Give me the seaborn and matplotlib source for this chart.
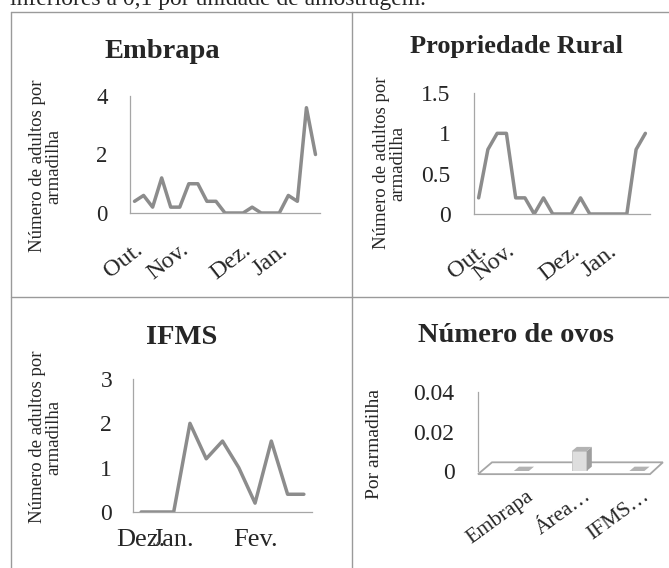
import numpy as np
import pandas as pd
import matplotlib
matplotlib.use("Agg")
import matplotlib.pyplot as plt
import seaborn as sns
from matplotlib.patches import Polygon
from matplotlib.lines import Line2D
from matplotlib.transforms import ScaledTranslation
from matplotlib.ticker import FuncFormatter

# ---------------- data ----------------
embrapa_vals = [0.4, 0.6, 0.2, 1.2, 0.2, 0.2, 1.0, 1.0, 0.4, 0.4, 0, 0, 0, 0.2, 0, 0, 0, 0.6, 0.4, 3.6, 2.0]
embrapa_ticklabels = ["Out.", "Nov.", "Dez.", "Jan."]
embrapa_tickidx = [0, 5, 12, 16]
embrapa_yticks = [0, 2, 4]

rural_vals = [0.2, 0.8, 1.0, 1.0, 0.2, 0.2, 0, 0.2, 0, 0, 0, 0.2, 0, 0, 0, 0, 0, 0.8, 1.0]
rural_ticklabels = ["Out.", "Nov.", "Dez.", "Jan."]
rural_tickidx = [0, 3, 10, 14]
rural_yticks = [0, 0.5, 1, 1.5]

ifms_vals = [0, 0, 0, 2.0, 1.2, 1.6, 1.0, 0.2, 1.6, 0.4, 0.4]
ifms_ticklabels = ["Dez.", "Jan.", "Fev."]
ifms_tickidx = [0, 2, 7]
ifms_yticks = [0, 1, 2, 3]

ovos_cats = ["Embrapa", "Área…", "IFMS…"]
ovos_vals = [0.0, 0.01, 0.0]
ovos_yticks = [0, 0.02, 0.04]

titles = ["Embrapa", "Propriedade Rural", "IFMS", "Número de ovos"]
ylab_adultos = "Número de adultos por\narmadilha"
ylab_ovos = "Por armadilha"
top_text = "inferiores a 0,1 por unidade de amostragem."

# ---------------- style ----------------
sns.set_theme(style="white")
plt.rcParams["font.family"] = ["Liberation Serif", "DejaVu Serif"]

W, H = 669, 568
fig = plt.figure(figsize=(W / 100, H / 100), dpi=100)
fig.patch.set_facecolor("white")

LINE_C = "#8c8c8c"
AX_C = "#a6a6a6"
GRID_C = "#9a9a9a"


def px_rect(left, top, right, bottom):
    return [left / W, 1 - bottom / H, (right - left) / W, (bottom - top) / H]


def fx(x):
    return x / W


def fy(y):
    return 1 - y / H


fmt = FuncFormatter(lambda v, p: f"{v:g}")


def style_axes(ax, ypad, ysize):
    sns.despine(ax=ax)
    for s in ["left", "bottom"]:
        ax.spines[s].set_color(AX_C)
        ax.spines[s].set_linewidth(0.9)
    ax.tick_params(axis="both", length=0)
    ax.tick_params(axis="y", pad=ypad, labelsize=ysize)
    ax.yaxis.set_major_formatter(fmt)
    ax.set_xlabel("")
    ax.set_ylabel("")
    ax.set_facecolor("none")


def line_panel(rect, vals, yticks, ticklabels, tickidx, ypad, ysize):
    ax = fig.add_axes(rect)
    df = pd.DataFrame({"idx": np.arange(len(vals)), "val": vals})
    sns.lineplot(data=df, x="idx", y="val", ax=ax, color=LINE_C, linewidth=2.5)
    ax.set_xlim(-0.5, len(vals) - 0.5)
    ax.set_ylim(min(yticks), max(yticks))
    ax.set_yticks(yticks)
    ax.set_xticks(tickidx)
    ax.set_xticklabels(ticklabels)
    style_axes(ax, ypad, ysize)
    return ax


def rotate_labels(ax, rot, dx_in):
    for lbl in ax.get_xticklabels():
        lbl.set_rotation(rot)
        lbl.set_ha("right")
        lbl.set_va("center")
        lbl.set_rotation_mode("anchor")
        lbl.set_transform(lbl.get_transform() + ScaledTranslation(dx_in, 0, fig.dpi_scale_trans))


# ---------- Embrapa ----------
ax1 = line_panel(px_rect(130, 96, 320, 213), embrapa_vals, embrapa_yticks,
                 embrapa_ticklabels, embrapa_tickidx, 16, 16.5)
ax1.tick_params(axis="x", pad=25, labelsize=17.5)
rotate_labels(ax1, 38, 0.06)

# ---------- Propriedade Rural ----------
ax2 = line_panel(px_rect(474, 93, 650, 214), rural_vals, rural_yticks,
                 rural_ticklabels, rural_tickidx, 17, 17)
ax2.tick_params(axis="x", pad=25, labelsize=17.5)
rotate_labels(ax2, 38, 0.06)

# ---------- IFMS ----------
ax3 = line_panel(px_rect(133, 379, 312, 512), ifms_vals, ifms_yticks,
                 ifms_ticklabels, ifms_tickidx, 15, 17)
ax3.tick_params(axis="x", pad=12, labelsize=19)

# ---------- Número de ovos ----------
ax4 = fig.add_axes(px_rect(478, 392, 660, 471))
odf = pd.DataFrame({"cat": ovos_cats, "val": ovos_vals})
sns.barplot(data=odf, x="cat", y="val", ax=ax4, color="#dedede", width=0.26,
            edgecolor="#c4c4c4", linewidth=0.6, saturation=1, zorder=3)
ax4.set_xlim(-0.75, 2.4)
ax4.set_ylim(0, 0.04)
ax4.set_yticks(ovos_yticks)
style_axes(ax4, 17, 17)
ax4.spines["bottom"].set_visible(False)
# 3-D floor
floor = Polygon([(0.0, -0.04), (0.945, -0.04), (1.016, 0.11), (0.077, 0.11)],
                closed=True, transform=ax4.transAxes, facecolor="white",
                edgecolor=AX_C, linewidth=1.3, clip_on=False, zorder=1)
ax4.add_patch(floor)
dx, dy = 0.09, 0.0022
for p in list(ax4.patches):
    if p is floor:
        continue
    x0, w, h = p.get_x(), p.get_width(), p.get_height()
    side = Polygon([(x0 + w, 0), (x0 + w + dx, dy), (x0 + w + dx, h + dy), (x0 + w, h)],
                   closed=True, facecolor="#9e9e9e", edgecolor="none", zorder=3, clip_on=False)
    top = Polygon([(x0, h), (x0 + w, h), (x0 + w + dx, h + dy), (x0 + dx, h + dy)],
                  closed=True, facecolor="#b3b3b3", edgecolor="none", zorder=4, clip_on=False)
    ax4.add_patch(side)
    ax4.add_patch(top)
ax4.tick_params(axis="x", pad=17, labelsize=15.5)
rotate_labels(ax4, 36, 0.10)

# ---------- titles & y labels ----------
fig.text(fx(162), fy(51), titles[0], ha="center", va="center", fontsize=20.5, fontweight="bold")
fig.text(fx(516), fy(46), titles[1], ha="center", va="center", fontsize=19, fontweight="bold")
fig.text(fx(182), fy(337), titles[2], ha="center", va="center", fontsize=20.5, fontweight="bold")
fig.text(fx(516), fy(335), titles[3], ha="center", va="center", fontsize=20.5, fontweight="bold")

for (cx, cy) in [(46, 166), (390, 163), (46, 437)]:
    fig.text(fx(cx), fy(cy), ylab_adultos, rotation=90, ha="center", va="center",
             multialignment="center", fontsize=13.5, linespacing=0.95)
fig.text(fx(375), fy(444), ylab_ovos, rotation=90, ha="center", va="center", fontsize=14)

# ---------- table grid ----------
def gline(x0, y0, x1, y1):
    fig.add_artist(Line2D([fx(x0), fx(x1)], [fy(y0), fy(y1)], transform=fig.transFigure,
                          color=GRID_C, linewidth=1.0))

gline(11, 12, 669, 12)
gline(11, 12, 11, 568)
gline(352, 12, 352, 568)
gline(11, 297, 669, 297)

fig.text(fx(10), fy(5), top_text, ha="left", va="baseline", fontsize=17)

fig.savefig("out.png", dpi=100)
